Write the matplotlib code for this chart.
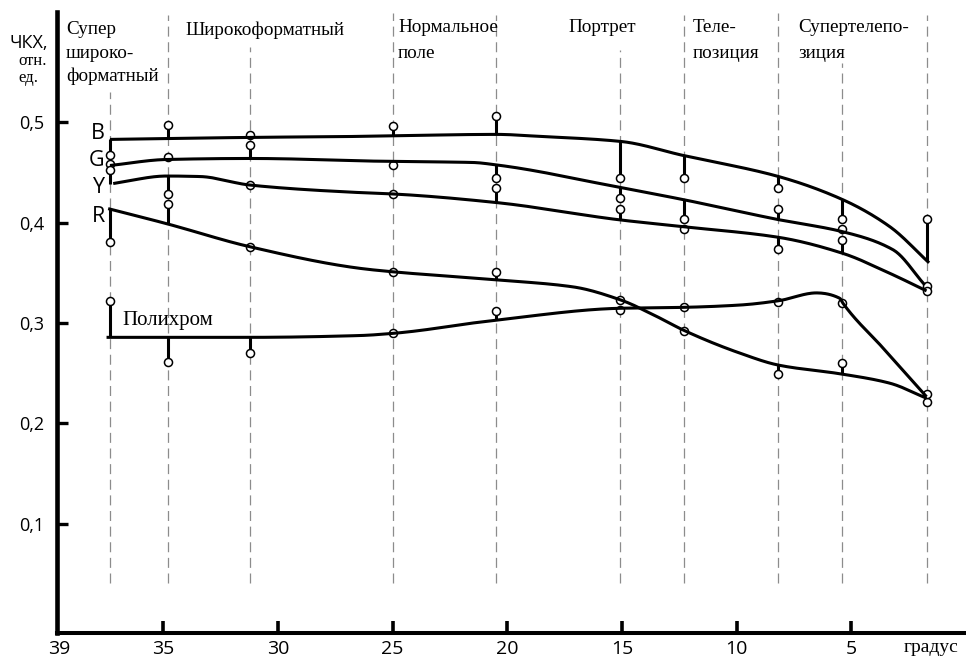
import numpy as np
import matplotlib
matplotlib.use("Agg")
import matplotlib.pyplot as plt

W, H = 966, 661

# ---------------- data ----------------
# angular fields of the lenses (degrees) where the measurements were taken
lens_angles = [37.3, 34.8, 31.2, 25.0, 20.5, 15.1, 12.3, 8.2, 5.4, 1.7]
guide_tops = [0.530, 0.607, 0.575, 0.609, 0.607, 0.572, 0.607, 0.609, 0.559, 0.607]
guide_bottom = 0.041

# measured values (circles)
B_meas = [0.467, 0.497, 0.487, 0.496, 0.506, 0.445, 0.445, 0.435, 0.404, 0.404]
G_meas = [0.458, 0.465, 0.477, 0.457, 0.445, 0.425, 0.404, 0.414, 0.394, 0.337]
Y_meas = [0.453, 0.429, 0.438, 0.429, 0.435, 0.414, 0.394, 0.374, 0.383, 0.332]
R_meas = [0.381, 0.419, 0.376, 0.351, 0.351, 0.323, 0.292, 0.249, 0.260, 0.221]
P_meas = [0.322, 0.261, 0.270, 0.290, 0.312, 0.313, 0.316, 0.321, 0.320, 0.229]

# fitted curves (read knots)
B_fit_x = [37.32, 31.22, 26.43, 20.45, 18.58, 15.06, 12.33, 8.17, 5.38, 3.32, 1.61]
B_fit_y = [0.483, 0.485, 0.486, 0.488, 0.486, 0.481, 0.467, 0.446, 0.423, 0.396, 0.360]
G_fit_x = [37.32, 34.85, 31.22, 24.99, 21.5, 20.45, 15.06, 12.33, 8.17, 5.38, 3.18, 1.80]
G_fit_y = [0.457, 0.463, 0.464, 0.461, 0.460, 0.4575, 0.435, 0.423, 0.403, 0.391, 0.373, 0.338]
Y_fit_x = [37.18, 34.85, 33.4, 31.22, 26.43, 24.97, 20.45, 15.06, 12.33, 8.17, 5.38, 3.32, 1.72]
Y_fit_y = [0.439, 0.4465, 0.446, 0.4375, 0.430, 0.4286, 0.420, 0.4027, 0.396, 0.3854, 0.3695, 0.3495, 0.332]
R_fit_x = [37.40, 34.85, 31.22, 26.43, 24.97, 20.45, 17.13, 15.06, 13.35, 12.33, 9.86, 8.17, 5.38, 3.32, 1.72]
R_fit_y = [0.414, 0.399, 0.376, 0.3545, 0.351, 0.343, 0.336, 0.323, 0.305, 0.293, 0.270, 0.258, 0.249, 0.240, 0.225]
P_fit_x = [37.47, 31.22, 26.43, 24.97, 20.45, 15.06, 12.33, 9.86, 8.17, 6.52, 5.50, 5.38, 3.55, 1.72]
P_fit_y = [0.2857, 0.2857, 0.2875, 0.2897, 0.303, 0.3147, 0.3156, 0.3179, 0.3222, 0.330, 0.3246, 0.3202, 0.2734, 0.2265]

curve_names = ["B", "G", "Y", "R"]
curve_label_y = [0.4884, 0.4615, 0.4346, 0.4057]
poly_label = "Полихром"

x_tick_pos = [39.55, 35, 30, 25, 20, 15, 10, 5]
x_tick_labels = ["39", "35", "30", "25", "20", "15", "10", "5"]
y_tick_pos = [0.1, 0.2, 0.3, 0.4, 0.5]
y_tick_labels = ["0,1", "0,2", "0,3", "0,4", "0,5"]

zone_labels = [
    (66, 30, "Супер"), (66, 54, "широко-"), (66, 76, "форматный"),
    (185, 30, "Широкоформатный"),
    (398, 28, "Нормальное"), (398, 53, "поле"),
    (568, 28, "Портрет"),
    (693, 28, "Теле-"), (693, 53, "позиция"),
    (798, 28, "Супертелепо-"), (798, 53, "зиция"),
]


def pchip(xk, yk, xs):
    xk = np.asarray(xk, float)
    yk = np.asarray(yk, float)
    o = np.argsort(xk)
    xk, yk = xk[o], yk[o]
    h = np.diff(xk)
    delta = np.diff(yk) / h
    n = len(xk)
    d = np.zeros(n)
    for k in range(1, n - 1):
        if delta[k - 1] * delta[k] > 0:
            w1 = 2 * h[k] + h[k - 1]
            w2 = h[k] + 2 * h[k - 1]
            d[k] = (w1 + w2) / (w1 / delta[k - 1] + w2 / delta[k])
    d[0] = delta[0]
    d[-1] = delta[-1]
    xs = np.clip(np.asarray(xs, float), xk[0], xk[-1])
    idx = np.clip(np.searchsorted(xk, xs) - 1, 0, n - 2)
    t = (xs - xk[idx]) / h[idx]
    h00 = 2 * t**3 - 3 * t**2 + 1
    h10 = t**3 - 2 * t**2 + t
    h01 = -2 * t**3 + 3 * t**2
    h11 = t**3 - t**2
    return (h00 * yk[idx] + h10 * h[idx] * d[idx] + h01 * yk[idx + 1]
            + h11 * h[idx] * d[idx + 1])


SERIF = ["Liberation Serif", "DejaVu Serif"]
SANS = ["Open Sans", "DejaVu Sans"]

fig = plt.figure(figsize=(W / 100, H / 100), dpi=100)
ax = fig.add_axes([57 / W, 1 - 633 / H, 1 - 57 / W, (633 - 12) / H])
ax.set_xlim(39.63, 0.0)
ax.set_ylim(-0.009, 0.610)

for s in ("top", "right"):
    ax.spines[s].set_visible(False)
ax.spines["left"].set_linewidth(3.3)
ax.spines["bottom"].set_linewidth(2.9)

# guide lines
ax.vlines(lens_angles, guide_bottom, guide_tops, colors="#8c8c8c",
          linestyles=(0, (8, 4.5)), lw=0.9, zorder=1)

fits = [(B_fit_x, B_fit_y), (G_fit_x, G_fit_y), (Y_fit_x, Y_fit_y),
        (R_fit_x, R_fit_y), (P_fit_x, P_fit_y)]
meas = [B_meas, G_meas, Y_meas, R_meas, P_meas]

for (fx, fy), m in zip(fits, meas):
    xs = np.linspace(min(fx), max(fx), 600)
    ax.plot(xs, pchip(fx, fy, xs), color="black", lw=2.2, zorder=4,
            solid_capstyle="butt")
    on_curve = pchip(fx, fy, lens_angles)
    ax.vlines(lens_angles, m, on_curve, colors="black", lw=2.2, zorder=2)
    ax.plot(lens_angles, m, "o", ls="none", ms=5.8, mfc="white", mec="black",
            mew=1.1, zorder=3)

for name, yv in zip(curve_names, curve_label_y):
    ax.text(37.55, yv, name, ha="right", va="center", fontsize=15.5,
            family=SANS, zorder=5)
ax.text(36.77, 0.302, poly_label, ha="left", va="center", fontsize=15,
        family=SERIF, zorder=5)

ax.set_xticks(x_tick_pos)
ax.set_xticklabels(x_tick_labels, family=SANS)
ax.set_yticks(y_tick_pos)
ax.set_yticklabels(y_tick_labels, family=SANS)
ax.tick_params(axis="x", direction="in", length=9, width=2.6, pad=5,
               labelsize=14)
ax.tick_params(axis="y", direction="in", length=8, width=2.4, pad=9,
               labelsize=13)
ax.xaxis.get_major_ticks()[0].tick1line.set_visible(False)

# zone names
for px, py, txt in zone_labels:
    fig.text(px / W, 1 - py / H, txt, ha="left", va="center", fontsize=13.8,
             family=SERIF)

# axis captions
fig.text(29 / W, 1 - 43 / H, "ЧКХ,", ha="center", va="center", fontsize=13,
         family=SANS)
fig.text(33 / W, 1 - 61 / H, "отн.", ha="center", va="center", fontsize=12,
         family=SERIF)
fig.text(28 / W, 1 - 78 / H, "ед.", ha="center", va="center", fontsize=12,
         family=SERIF)
fig.text(931 / W, 1 - 648 / H, "градус", ha="center", va="center",
         fontsize=14, family=SERIF)

fig.savefig("out.png", dpi=100)
